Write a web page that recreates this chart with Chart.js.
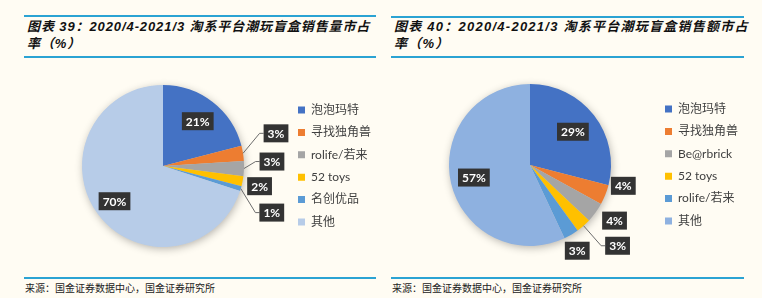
<!DOCTYPE html>
<html>
<head>
<meta charset="utf-8">
<script src="https://cdn.jsdelivr.net/npm/chart.js@4"></script>
<style>
  body { margin: 0; width: 762px; height: 298px; background: #fffcf3; position: relative; overflow: hidden; }
  .rule { position: absolute; height: 1.5px; background: #2ba3d3; }
  .title { position: absolute; font-family: "Liberation Sans", "Noto Sans CJK SC", sans-serif; font-weight: bold; font-style: italic; font-size: 13px; line-height: 17px; color: #111; letter-spacing: 0.9px; white-space: nowrap; }
  .src { position: absolute; font-family: "Noto Sans CJK SC", sans-serif; font-size: 10px; color: #222; white-space: nowrap; }
  canvas { position: absolute; top: 60px; }
</style>
</head>
<body>
<div class="rule" style="left:24px;top:15px;width:352px"></div>
<div class="title" style="left:27px;top:18px">图表 39：2020/4-2021/3 淘系平台潮玩盲盒销售量市占<br>率（%）</div>
<div class="rule" style="left:24px;top:56px;width:352px"></div>
<canvas id="volumeChart" width="381" height="210" style="left:0"></canvas>
<div class="rule" style="left:24px;top:277px;width:352px"></div>
<div class="src" style="left:25px;top:280px">来源：国金证券数据中心，国金证券研究所</div>

<div class="rule" style="left:391px;top:16px;width:353px"></div>
<div class="title" style="left:394px;top:18px;letter-spacing:1.25px">图表 40：2020/4-2021/3 淘系平台潮玩盲盒销售额市占<br>率（%）</div>
<div class="rule" style="left:391px;top:56px;width:353px"></div>
<canvas id="salesChart" width="381" height="210" style="left:381px"></canvas>
<div class="rule" style="left:391px;top:277px;width:353px"></div>
<div class="src" style="left:392px;top:280px">来源：国金证券数据中心，国金证券研究所</div>

<script>
// Data
const volumeLabels = ['泡泡玛特', '寻找独角兽', 'rolife/若来', '52 toys', '名创优品', '其他'];
const volumeShare = [21, 3, 3, 2, 1, 70];
const salesLabels = ['泡泡玛特', '寻找独角兽', 'Be@rbrick', '52 toys', 'rolife/若来', '其他'];
const salesShare = [29, 4, 4, 3, 3, 57];

const volumeColors = ['#4472c4', '#ed7d31', '#a5a5a5', '#ffc000', '#5b9bd5', '#b7cce8'];
const salesColors = ['#4472c4', '#ed7d31', '#a5a5a5', '#ffc000', '#5b9bd5', '#8eb1e0'];

// where each % box sits: r = fraction of radius inside the slice,
// dx/dy = offset from the middle of the slice rim
const volumePlace = [{r: 0.7}, {dx: 33, dy: -20, leader: true}, {dx: 28, dy: -7, leader: true},
                     {dx: 17, dy: 5}, {dx: 31, dy: 24, leader: true}, {r: 0.74}];
const salesPlace = [{r: 0.67}, {dx: 18, dy: -9}, {dx: 19, dy: 8},
                    {dx: 34, dy: 20, leader: true}, {dx: 6, dy: 16}, {r: 0.71}];

// soft shadow under the whole pie
const pieShadow = {
    id: 'pieShadow',
    beforeDatasetsDraw(chart) {
        const arc = chart.getDatasetMeta(0).data[0];
        if (!arc) return;
        const {x, y, outerRadius} = arc.getProps(['x', 'y', 'outerRadius'], true);
        const ctx = chart.ctx;
        ctx.save();
        ctx.shadowColor = 'rgba(0,0,0,0.3)';
        ctx.shadowBlur = 8;
        ctx.shadowOffsetX = 1;
        ctx.shadowOffsetY = 2;
        ctx.fillStyle = '#ccc';
        ctx.beginPath();
        ctx.arc(x, y, outerRadius - 0.5, 0, Math.PI * 2);
        ctx.fill();
        ctx.restore();
    }
};

// dark boxes with the percentages
const valueBoxes = {
    id: 'valueBoxes',
    afterDatasetsDraw(chart, args, opts) {
        const ctx = chart.ctx;
        const values = chart.data.datasets[0].data;
        ctx.save();
        ctx.font = 'bold 12px Lato, "Liberation Sans", sans-serif';
        ctx.textAlign = 'center';
        ctx.textBaseline = 'middle';
        chart.getDatasetMeta(0).data.forEach((arc, i) => {
            const p = arc.getProps(['x', 'y', 'startAngle', 'endAngle', 'outerRadius'], true);
            const mid = (p.startAngle + p.endAngle) / 2;
            const place = opts.place[i];
            const ex = p.x + Math.cos(mid) * p.outerRadius;
            const ey = p.y + Math.sin(mid) * p.outerRadius;
            let lx, ly;
            if (place.r !== undefined) {
                lx = p.x + Math.cos(mid) * p.outerRadius * place.r;
                ly = p.y + Math.sin(mid) * p.outerRadius * place.r;
            } else {
                lx = ex + place.dx;
                ly = ey + place.dy;
            }
            const text = values[i] + '%';
            const w = ctx.measureText(text).width + 8, h = 18;
            if (place.leader) {
                const bx = lx - w / 2;
                ctx.strokeStyle = '#6b6b6b';
                ctx.lineWidth = 1;
                ctx.beginPath();
                ctx.moveTo(ex, ey);
                ctx.lineTo(bx - 4, ly);
                ctx.lineTo(bx, ly);
                ctx.stroke();
            }
            ctx.fillStyle = '#333';
            ctx.fillRect(lx - w / 2, ly - h / 2, w, h);
            ctx.fillStyle = '#fff';
            ctx.fillText(text, lx, ly + 0.5);
        });
        ctx.restore();
    }
};

function makePie(id, labels, values, colors, place, pad) {
    return new Chart(document.getElementById(id), {
        type: 'pie',
        data: {
            labels: labels,
            datasets: [{ data: values, backgroundColor: colors, borderWidth: 0 }]
        },
        options: {
            responsive: false,
            animation: false,
            layout: { padding: pad },
            plugins: {
                legend: {
                    position: 'right',
                    maxWidth: 85,
                    labels: {
                        boxWidth: 7,
                        boxHeight: 7,
                        padding: 10.4,
                        color: '#404040',
                        font: { size: 12, family: 'Lato, "Noto Sans CJK SC", sans-serif' }
                    }
                },
                tooltip: { enabled: false },
                valueBoxes: { place: place }
            }
        },
        plugins: [pieShadow, valueBoxes]
    });
}

const volumeChart = makePie('volumeChart', volumeLabels, volumeShare, volumeColors, volumePlace,
    { left: 38.4, right: 8.4, top: 25, bottom: 23 });
const salesChart = makePie('salesChart', salesLabels, salesShare, salesColors, salesPlace,
    { left: 24.4, right: 22.4, top: 24, bottom: 24 });
</script>
</body>
</html>
